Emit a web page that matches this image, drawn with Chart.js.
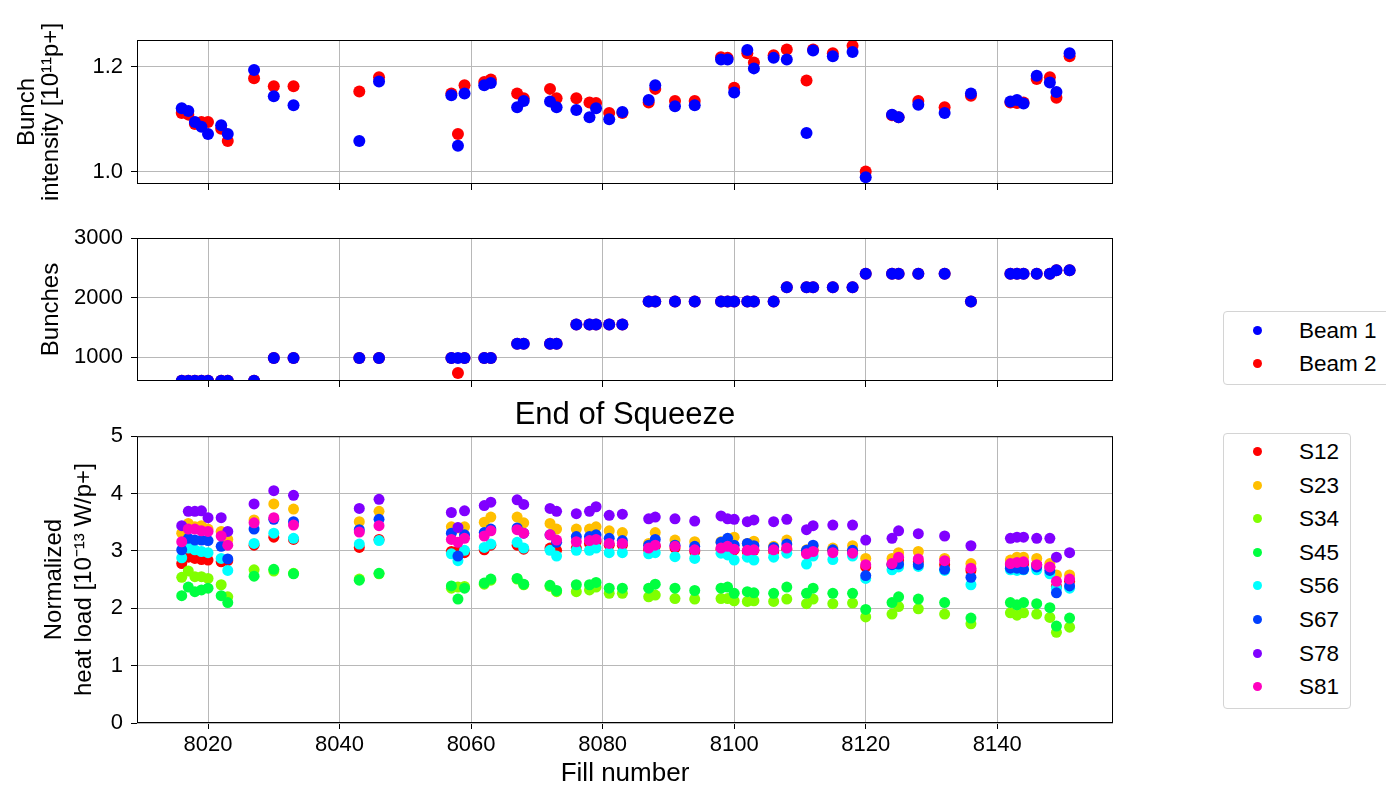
<!DOCTYPE html>
<html>
<head>
<meta charset="utf-8">
<script src="https://cdn.jsdelivr.net/npm/chart.js@4.4.1/dist/chart.umd.min.js"></script>
<style>
  body { margin: 0; width: 1386px; height: 789px; overflow: hidden; background: #fff; position: relative;
         font-family: "Liberation Sans", Arial, sans-serif; }
  canvas { position: absolute; left: 0; }
  .legend { position: absolute; border: 1px solid #d4d4d4; border-radius: 4px; background: #fff; box-sizing: border-box; }
  .legend .dot { position: absolute; width: 9px; height: 9px; border-radius: 50%; }
  .legend .label { position: absolute; height: 26px; line-height: 26px; font-size: 22.5px; color: #000; white-space: nowrap; }
</style>
</head>
<body>
<canvas id="intensityChart" width="1130" height="210" style="top:0"></canvas>
<canvas id="bunchesChart" width="1130" height="210" style="top:200px"></canvas>
<canvas id="heatChart" width="1130" height="394" style="top:395px"></canvas>
<div id="beamLegend" class="legend" style="left:1223px; top:311px; width:175px; height:74px"></div>
<div id="sectorLegend" class="legend" style="left:1223px; top:433px; width:128px; height:276px"></div>
<script>
// Fills
const fills = [8016, 8017, 8018, 8019, 8020, 8022, 8023, 8027, 8030, 8033,
  8043, 8046, 8057, 8058, 8059, 8062, 8063, 8067, 8068, 8072,
  8073, 8076, 8078, 8079, 8081, 8083, 8087, 8088, 8091, 8094,
  8098, 8099, 8100, 8102, 8103, 8106, 8108, 8111, 8112, 8115,
  8118, 8120, 8124, 8125, 8128, 8132, 8136, 8142, 8143, 8144,
  8146, 8148, 8149, 8151];

// Bunch intensity [1e11 p+]
const intensityB1 = [1.121, 1.116, 1.095, 1.086, 1.072, 1.089, 1.072, 1.194, 1.144, 1.127,
  1.059, 1.172, 1.146, 1.050, 1.149, 1.165, 1.169, 1.123, 1.135, 1.134,
  1.123, 1.118, 1.104, 1.121, 1.100, 1.114, 1.137, 1.165, 1.125, 1.127,
  1.214, 1.214, 1.151, 1.232, 1.197, 1.217, 1.214, 1.074, 1.231, 1.220,
  1.228, 0.990, 1.109, 1.104, 1.128, 1.112, 1.149, 1.134, 1.137, 1.130,
  1.183, 1.170, 1.152, 1.226];
const intensityB2 = [1.112, 1.109, 1.091, 1.095, 1.095, 1.082, 1.059, 1.178, 1.163, 1.163,
  1.153, 1.180, 1.149, 1.072, 1.165, 1.171, 1.176, 1.149, 1.140, 1.158,
  1.140, 1.140, 1.132, 1.131, 1.112, 1.112, 1.132, 1.158, 1.135, 1.135,
  1.218, 1.217, 1.160, 1.226, 1.208, 1.222, 1.233, 1.174, 1.233, 1.226,
  1.240, 1.001, 1.108, 1.104, 1.135, 1.123, 1.145, 1.132, 1.131, 1.132,
  1.177, 1.180, 1.141, 1.220];

// Number of bunches
const bunchesB1 = [603, 603, 603, 603, 603, 603, 603, 603, 987, 987,
  987, 987, 987, 987, 987, 987, 987, 1227, 1227, 1227,
  1227, 1550, 1550, 1550, 1550, 1550, 1935, 1935, 1935, 1935,
  1935, 1935, 1935, 1935, 1935, 1935, 2173, 2173, 2173, 2173,
  2173, 2401, 2401, 2401, 2401, 2401, 1935, 2401, 2401, 2401,
  2401, 2401, 2460, 2460];
const bunchesB2 = [603, 603, 603, 603, 603, 603, 603, 603, 987, 987,
  987, 987, 987, 733, 987, 987, 987, 1227, 1227, 1227,
  1227, 1550, 1550, 1550, 1550, 1550, 1935, 1935, 1935, 1935,
  1935, 1935, 1935, 1935, 1935, 1935, 2173, 2173, 2173, 2173,
  2173, 2401, 2401, 2401, 2401, 2401, 1935, 2401, 2401, 2401,
  2401, 2401, 2460, 2460];

// Normalized heat load per sector [1e-13 W/p+]
const sectors = ['S12', 'S23', 'S34', 'S45', 'S56', 'S67', 'S78', 'S81'];
const hlS12 = [2.78, 2.89, 2.87, 2.85, 2.84, 2.81, 2.83, 3.10, 3.24, 3.20,
  3.06, 3.20, 2.99, 2.99, 2.97, 3.02, 3.10, 3.10, 3.03, 3.05,
  3.01, 3.05, 3.13, 3.16, 3.10, 3.10, 3.02, 3.08, 3.05, 2.99,
  3.03, 3.05, 3.02, 2.99, 3.01, 2.99, 3.03, 2.97, 3.02, 3.01,
  2.99, 2.72, 2.76, 2.84, 2.81, 2.76, 2.66, 2.76, 2.76, 2.77,
  2.76, 2.72, 2.38, 2.47];
const hlS23 = [3.31, 3.48, 3.42, 3.44, 3.38, 3.34, 3.20, 3.54, 3.82, 3.73,
  3.51, 3.69, 3.42, 3.40, 3.42, 3.50, 3.59, 3.59, 3.49, 3.48,
  3.38, 3.38, 3.38, 3.42, 3.35, 3.32, 3.13, 3.32, 3.19, 3.16,
  3.16, 3.19, 3.24, 3.13, 3.17, 3.08, 3.19, 3.02, 3.08, 3.05,
  3.09, 2.87, 2.87, 2.97, 2.99, 2.87, 2.78, 2.84, 2.89, 2.89,
  2.87, 2.78, 2.58, 2.58];
const hlS34 = [2.54, 2.65, 2.55, 2.55, 2.52, 2.41, 2.20, 2.67, 2.65, 2.61,
  2.51, 2.60, 2.35, 2.37, 2.38, 2.42, 2.49, 2.51, 2.41, 2.38,
  2.29, 2.29, 2.32, 2.37, 2.26, 2.26, 2.20, 2.23, 2.17, 2.16,
  2.17, 2.17, 2.13, 2.12, 2.13, 2.12, 2.16, 2.08, 2.16, 2.08,
  2.09, 1.85, 1.90, 2.03, 1.99, 1.90, 1.73, 1.92, 1.88, 1.92,
  1.90, 1.84, 1.58, 1.67];
const hlS45 = [2.22, 2.37, 2.29, 2.32, 2.35, 2.22, 2.10, 2.56, 2.68, 2.60,
  2.49, 2.61, 2.39, 2.16, 2.35, 2.44, 2.51, 2.52, 2.42, 2.40,
  2.31, 2.41, 2.41, 2.45, 2.35, 2.35, 2.35, 2.42, 2.35, 2.31,
  2.35, 2.37, 2.26, 2.29, 2.27, 2.26, 2.37, 2.26, 2.35, 2.26,
  2.26, 1.98, 2.10, 2.20, 2.16, 2.10, 1.83, 2.10, 2.06, 2.10,
  2.08, 2.01, 1.69, 1.83];
const hlS56 = [2.88, 3.05, 3.02, 2.99, 2.97, 2.87, 2.66, 3.13, 3.31, 3.22,
  3.12, 3.18, 2.95, 2.83, 3.01, 3.06, 3.12, 3.15, 3.05, 3.01,
  2.91, 3.01, 3.01, 3.05, 2.97, 2.97, 2.95, 2.97, 2.90, 2.87,
  2.96, 2.93, 2.84, 2.89, 2.84, 2.89, 2.96, 2.77, 2.91, 2.85,
  2.91, 2.52, 2.67, 2.72, 2.73, 2.66, 2.41, 2.67, 2.66, 2.67,
  2.67, 2.60, 2.35, 2.35];
const hlS67 = [3.02, 3.22, 3.19, 3.19, 3.18, 3.08, 2.86, 3.38, 3.55, 3.51,
  3.37, 3.55, 3.31, 2.91, 3.28, 3.32, 3.38, 3.40, 3.31, 3.28,
  3.15, 3.25, 3.25, 3.28, 3.22, 3.18, 3.10, 3.20, 3.10, 3.08,
  3.15, 3.22, 3.10, 3.13, 3.09, 3.06, 3.12, 3.01, 3.10, 3.02,
  3.01, 2.57, 2.76, 2.77, 2.76, 2.68, 2.54, 2.70, 2.70, 2.68,
  2.72, 2.66, 2.27, 2.39];
const hlS78 = [3.44, 3.69, 3.69, 3.70, 3.58, 3.58, 3.34, 3.82, 4.05, 3.97,
  3.74, 3.90, 3.67, 3.41, 3.70, 3.79, 3.85, 3.89, 3.81, 3.74,
  3.69, 3.65, 3.69, 3.77, 3.62, 3.64, 3.56, 3.59, 3.56, 3.52,
  3.61, 3.56, 3.55, 3.51, 3.54, 3.51, 3.55, 3.37, 3.44, 3.45,
  3.45, 3.19, 3.22, 3.35, 3.30, 3.26, 3.09, 3.22, 3.24, 3.24,
  3.22, 3.22, 2.89, 2.97];
const hlS81 = [3.16, 3.38, 3.38, 3.35, 3.34, 3.26, 3.10, 3.49, 3.58, 3.45,
  3.33, 3.44, 3.20, 3.15, 3.22, 3.26, 3.35, 3.37, 3.31, 3.28,
  3.19, 3.16, 3.18, 3.20, 3.13, 3.13, 3.05, 3.10, 3.08, 3.02,
  3.05, 3.08, 3.03, 3.01, 3.02, 3.02, 3.05, 2.95, 2.99, 2.97,
  2.96, 2.76, 2.78, 2.89, 2.86, 2.83, 2.70, 2.78, 2.80, 2.81,
  2.76, 2.72, 2.47, 2.51];
const heatLoads = [hlS12, hlS23, hlS34, hlS45, hlS56, hlS67, hlS78, hlS81];

// Axis ticks
const fillTicks = [8020, 8040, 8060, 8080, 8100, 8120, 8140];
const intensityTicks = [1.0, 1.2];
const bunchTicks = [1000, 2000, 3000];
const heatTicks = [0, 1, 2, 3, 4, 5];

const beamColors = { 'Beam 1': '#0000ff', 'Beam 2': '#ff0000' };
const sectorColors = ['#ff0000', '#ffbf00', '#80ff00', '#00ff40', '#00ffff', '#0040ff', '#8000ff', '#ff00bf'];

Chart.defaults.font.family = '"Liberation Sans", Arial, sans-serif';
Chart.defaults.color = '#000';

// black box around each axes area
const frame = {
  id: 'frame',
  afterDatasetsDraw(chart) {
    const { ctx, chartArea: a } = chart;
    ctx.save();
    ctx.strokeStyle = '#000';
    ctx.lineWidth = 1;
    ctx.strokeRect(a.left + 0.5, a.top + 0.5, a.right - a.left - 1, a.bottom - a.top - 1);
    ctx.restore();
  }
};

function points(ys) {
  return fills.map((f, i) => ({ x: f, y: ys[i] }));
}

function fixedTicks(values) {
  return scale => { scale.ticks = values.map(v => ({ value: v })); };
}

function createPanel(id, cfg) {
  const grid = { color: '#b8b8b8', lineWidth: 1, tickColor: '#000', tickLength: 6 };
  return new Chart(document.getElementById(id), {
    type: 'scatter',
    data: { datasets: cfg.datasets },
    plugins: [frame],
    options: {
      responsive: false,
      animation: false,
      events: [],
      layout: { autoPadding: false, padding: { top: cfg.padTop, right: 17, left: 0, bottom: 0 } },
      plugins: {
        legend: { display: false },
        tooltip: { enabled: false },
        title: cfg.title || { display: false }
      },
      scales: {
        x: {
          type: 'linear', min: 8009.2, max: 8157.6,
          afterBuildTicks: fixedTicks(fillTicks),
          afterFit: s => { s.height = cfg.xHeight; },
          grid, border: { display: false },
          ticks: { display: cfg.showX, padding: 3, font: { size: 22 }, callback: v => String(v) },
          title: {
            display: cfg.showX, text: 'Fill number',
            font: { size: 26, lineHeight: 1.2 }, padding: { top: 0, bottom: 0 }
          }
        },
        y: {
          type: 'linear', min: cfg.yMin, max: cfg.yMax,
          afterBuildTicks: fixedTicks(cfg.yTicks),
          afterFit: s => { s.width = 137; },
          grid, border: { display: false },
          ticks: { padding: 8, font: { size: 22 }, callback: cfg.yFormat },
          title: {
            display: true, text: cfg.yTitle,
            font: { size: 24, lineHeight: cfg.titleLine }, padding: { top: cfg.titlePad, bottom: 0 }
          }
        }
      }
    }
  });
}

// Beam 1 first so it is drawn on top of Beam 2
const intensityChart = createPanel('intensityChart', {
  datasets: [
    { label: 'Beam 1', data: points(intensityB1), backgroundColor: beamColors['Beam 1'], pointRadius: 6, pointBorderWidth: 0, clip: 0 },
    { label: 'Beam 2', data: points(intensityB2), backgroundColor: beamColors['Beam 2'], pointRadius: 6, pointBorderWidth: 0, clip: 0 }
  ],
  padTop: 40, xHeight: 26, showX: false,
  yMin: 0.977, yMax: 1.251, yTicks: intensityTicks, yFormat: v => v.toFixed(1),
  yTitle: ['Bunch', 'intensity [10\u00b9\u00b9p+]'], titleLine: 1.0, titlePad: 15
});

createPanel('bunchesChart', {
  datasets: [
    { label: 'Beam 1', data: points(bunchesB1), backgroundColor: beamColors['Beam 1'], pointRadius: 6, pointBorderWidth: 0, clip: 0 },
    { label: 'Beam 2', data: points(bunchesB2), backgroundColor: beamColors['Beam 2'], pointRadius: 6, pointBorderWidth: 0, clip: 0 }
  ],
  padTop: 38, xHeight: 29, showX: false,
  yMin: 600, yMax: 3000, yTicks: bunchTicks, yFormat: v => String(v),
  yTitle: 'Bunches', titleLine: 1.2, titlePad: 37
});

// later sectors end up on top, so the draw order is reversed
const heatChart = createPanel('heatChart', {
  datasets: sectors.map((name, i) => ({
    label: name, data: points(heatLoads[i]), backgroundColor: sectorColors[i],
    pointRadius: 5.5, pointBorderWidth: 0, clip: 0, order: sectors.length - i
  })),
  padTop: 0, xHeight: 66, showX: true,
  yMin: 0, yMax: 5, yTicks: heatTicks, yFormat: v => String(v),
  yTitle: ['Normalized', 'heat load [10\u207b\u00b9\u00b3 W/p+]'], titleLine: 1.25, titlePad: 39,
  title: {
    display: true, fullSize: false, text: 'End of Squeeze', color: '#000',
    font: { size: 31, weight: 'normal', lineHeight: 1.2 }, padding: { top: 2, bottom: 2 }
  }
});

function buildLegend(id, chart, firstY, step) {
  const box = document.getElementById(id);
  chart.data.datasets.forEach((ds, i) => {
    const cy = firstY + i * step;
    const dot = document.createElement('span');
    dot.className = 'dot';
    dot.style.background = ds.backgroundColor;
    dot.style.left = '29px';
    dot.style.top = (cy - 5) + 'px';
    const label = document.createElement('span');
    label.className = 'label';
    label.textContent = ds.label;
    label.style.left = '75px';
    label.style.top = (cy - 13) + 'px';
    box.append(dot, label);
  });
}

buildLegend('beamLegend', intensityChart, 19, 33);
buildLegend('sectorLegend', heatChart, 18, 33.6);
</script>
</body>
</html>
